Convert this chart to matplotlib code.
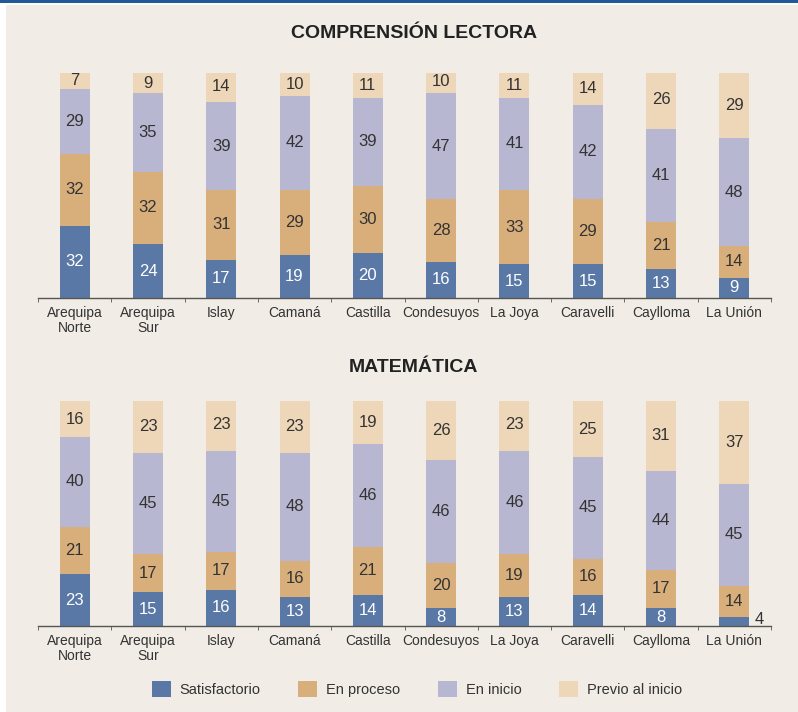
import numpy as np
import matplotlib.pyplot as plt
from matplotlib.patches import Rectangle, Patch

plt.rcParams['font.family'] = ['Liberation Sans', 'DejaVu Sans']

provincias = ['Arequipa\nNorte', 'Arequipa\nSur', 'Islay', 'Camaná', 'Castilla',
              'Condesuyos', 'La Joya', 'Caravelli', 'Caylloma', 'La Unión']
niveles = ['Satisfactorio', 'En proceso', 'En inicio', 'Previo al inicio']

# Comprension lectora
cl_satisf = [32, 24, 17, 19, 20, 16, 15, 15, 13, 9]
cl_proceso = [32, 32, 31, 29, 30, 28, 33, 29, 21, 14]
cl_inicio = [29, 35, 39, 42, 39, 47, 41, 42, 41, 48]
cl_previo = [7, 9, 14, 10, 11, 10, 11, 14, 26, 29]

# Matematica
mat_satisf = [23, 15, 16, 13, 14, 8, 13, 14, 8, 4]
mat_proceso = [21, 17, 17, 16, 21, 20, 19, 16, 17, 14]
mat_inicio = [40, 45, 45, 48, 46, 46, 46, 45, 44, 45]
mat_previo = [16, 23, 23, 23, 19, 26, 23, 25, 31, 37]

colores = ['#5a78a6', '#d8ae7b', '#b7b7d1', '#eed7b8']
txt_colores = ['white', '#333333', '#333333', '#333333']
bg = '#f1ede6'

fig = plt.figure(figsize=(7.98, 7.12), dpi=100)
fig.patch.set_facecolor('white')
fig.patches.append(Rectangle((6 / 798, 0), 1, 707 / 712, transform=fig.transFigure,
                             facecolor=bg, edgecolor='none', zorder=-2))
fig.patches.append(Rectangle((0, 709 / 712), 1, 3 / 712, transform=fig.transFigure,
                             facecolor='#1f5a96', edgecolor='none', zorder=-1))


def dibujar(ax, series):
    x = np.arange(len(provincias))
    base = np.zeros(len(provincias))
    for vals, col, tcol in zip(series, colores, txt_colores):
        vals = np.array(vals, dtype=float)
        ax.bar(x, vals, bottom=base, width=0.41, color=col, edgecolor='none')
        for xi, b, v in zip(x, base, vals):
            if v < 6:
                # valor pequeño: se escribe al lado de la barra
                ax.text(xi + 0.34, b - 0.5, f'{int(v)}', ha='center', va='bottom',
                        fontsize=12, color='#333333')
            else:
                ax.text(xi, b + v / 2, f'{int(v)}', ha='center', va='center',
                        fontsize=12, color=tcol)
        base += vals
    ax.set_xlim(-0.5, len(provincias) - 0.5)
    ax.set_ylim(0, 100)
    ax.set_facecolor('none')
    for s in ['top', 'right', 'left']:
        ax.spines[s].set_visible(False)
    ax.spines['bottom'].set_color('#555555')
    ax.spines['bottom'].set_linewidth(1.0)
    ax.set_yticks([])
    ax.set_xticks(x)
    ax.set_xticklabels(provincias, fontsize=10, color='#333333', linespacing=1.05)
    ax.tick_params(axis='x', which='major', length=0, pad=6)
    ax.set_xticks(np.arange(-0.5, len(provincias)), minor=True)
    ax.tick_params(axis='x', which='minor', length=3, color='#555555', direction='out')


ax1 = fig.add_axes([38 / 798, (712 - 298) / 712, 733 / 798, 225 / 712])
dibujar(ax1, [cl_satisf, cl_proceso, cl_inicio, cl_previo])
fig.text(414 / 798, 1 - 33 / 712, 'COMPRENSIÓN LECTORA', ha='center', va='center',
         fontsize=14, fontweight='bold', color='#222222')

ax2 = fig.add_axes([38 / 798, (712 - 626) / 712, 733 / 798, 225 / 712])
dibujar(ax2, [mat_satisf, mat_proceso, mat_inicio, mat_previo])
fig.text(414 / 798, 1 - 367 / 712, 'MATEMÁTICA', ha='center', va='center',
         fontsize=14, fontweight='bold', color='#222222')

handles = [Patch(facecolor=c, edgecolor='none') for c in colores]
fig.legend(handles, niveles, loc='center', bbox_to_anchor=(417 / 798, 1 - 689 / 712),
           ncol=4, frameon=False, fontsize=10.5, handlelength=1.3, handleheight=1.4,
           handletextpad=0.6, columnspacing=2.6, labelcolor='#333333')

fig.savefig('out.png', dpi=100)
